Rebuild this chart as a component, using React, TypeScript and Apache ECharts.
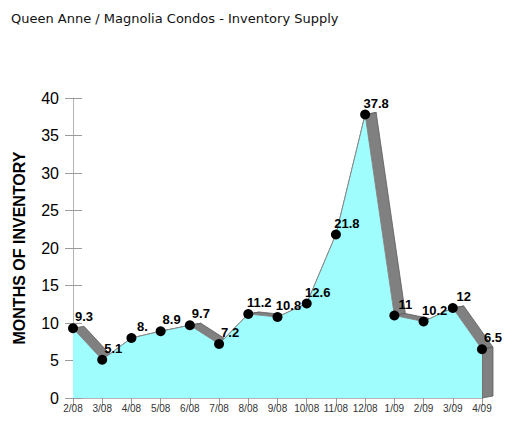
import React, { useEffect, useRef } from "react";
import * as echarts from "echarts";

const categories = ["2/08", "3/08", "4/08", "5/08", "6/08", "7/08", "8/08", "9/08", "10/08", "11/08", "12/08", "1/09", "2/09", "3/09", "4/09"];
const monthsOfInventory = [9.3, 5.1, 8.0, 8.9, 9.7, 7.2, 11.2, 10.8, 12.6, 21.8, 37.8, 11, 10.2, 12, 6.5];
const pointLabels = ["9.3", "5.1", "8.", "8.9", "9.7", "7.2", "11.2", "10.8", "12.6", "21.8", "37.8", "11", "10.2", "12", "6.5"];
const yTicks = { min: 0, max: 40, interval: 5 };

const DX = 11;
const DY = -2;

export default function App() {
  const ref = useRef<HTMLDivElement>(null);
  useEffect(() => {
    if (!ref.current) return;
    const chart = echarts.init(ref.current, null, { renderer: "svg" });
    const n = monthsOfInventory.length;
    const ribbonData: number[][] = [];
    for (let i = 0; i < n - 1; i++) ribbonData.push([i, monthsOfInventory[i], monthsOfInventory[i + 1], 0]);
    ribbonData.push([n - 1, monthsOfInventory[n - 1], 0, 1]);

    chart.setOption({
      animation: false,
      title: {
        text: "Queen Anne / Magnolia Condos - Inventory Supply",
        left: 6,
        top: 7,
        textStyle: { fontFamily: "DejaVu Sans", fontSize: 13, fontWeight: "normal", color: "#111" },
      },
      grid: { left: 73, right: 43, top: 98, bottom: 40 },
      xAxis: {
        type: "category",
        data: categories,
        boundaryGap: false,
        axisLine: { lineStyle: { color: "#b4b4b4", width: 1 } },
        axisTick: { show: true, length: 8, interval: 0, lineStyle: { color: "#9a9a9a" } },
        axisLabel: { fontFamily: "Arial, Liberation Sans", fontSize: 10, color: "#333", margin: 5, interval: 0 },
      },
      yAxis: [
        {
          type: "value",
          ...yTicks,
          name: "MONTHS OF INVENTORY",
          nameLocation: "middle",
          nameGap: 46,
          nameTextStyle: { fontFamily: "Arial, Liberation Sans", fontSize: 16, fontWeight: "bold", color: "#000" },
          axisLine: { show: true, lineStyle: { color: "#b4b4b4" } },
          axisTick: { show: true, length: 8, lineStyle: { color: "#9a9a9a" } },
          axisLabel: { fontFamily: "Arial, Liberation Sans", fontSize: 16, color: "#000", margin: 14 },
          splitLine: { show: false },
        },
        {
          type: "value",
          ...yTicks,
          position: "left",
          axisLine: { show: false },
          axisTick: { show: true, inside: true, length: 9, lineStyle: { color: "#9a9a9a" } },
          axisLabel: { show: false },
          splitLine: { show: false },
        },
      ],
      series: [
        {
          type: "custom",
          z: 1,
          data: ribbonData,
          encode: { x: 0, y: 1 },
          renderItem: (params: any, api: any) => {
            const i = api.value(0);
            const kind = api.value(3);
            const a = api.coord([i, api.value(1)]);
            let pts: number[][];
            if (kind === 0) {
              const b = api.coord([i + 1, api.value(2)]);
              pts = [a, b, [b[0] + DX, b[1] + DY], [a[0] + DX, a[1] + DY]];
            } else {
              const bottom = api.coord([i, 0]);
              pts = [a, [a[0] + DX, a[1] + DY], [bottom[0] + DX, bottom[1] + DY], bottom];
            }
            return {
              type: "polygon",
              shape: { points: pts },
              style: { fill: "#808080", stroke: "#5a5a5a", lineWidth: 0.8 },
            };
          },
        },
        {
          type: "line",
          z: 2,
          data: monthsOfInventory,
          symbol: "circle",
          symbolSize: 10,
          itemStyle: { color: "#000" },
          lineStyle: { color: "#8a8a8a", width: 1 },
          areaStyle: { color: "#a0fdfd", opacity: 1 },
          label: {
            show: true,
            position: "top",
            distance: 0,
            offset: [11, 0],
            formatter: (p: any) => pointLabels[p.dataIndex],
            fontFamily: "Arial, Liberation Sans",
            fontSize: 13,
            fontWeight: "bold",
            color: "#000",
          },
        },
      ],
    });
    return () => chart.dispose();
  }, []);
  return <div ref={ref} style={{ width: 525, height: 438, position: "absolute", left: 0, top: 0 }} />;
}
